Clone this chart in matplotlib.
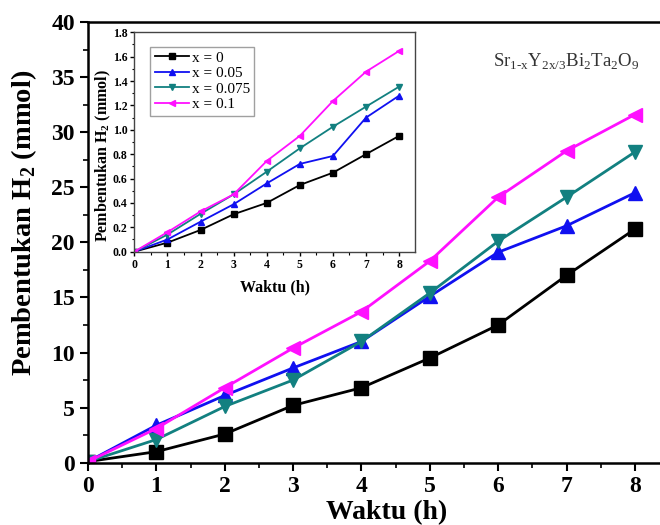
import numpy as np
import matplotlib.pyplot as plt
from matplotlib.ticker import MultipleLocator

plt.rcParams['font.family'] = ['Liberation Serif', 'DejaVu Serif']
plt.rcParams['mathtext.fontset'] = 'custom'
plt.rcParams['mathtext.rm'] = 'Liberation Serif'
plt.rcParams['mathtext.bf'] = 'Liberation Serif:bold'

# --------------------- data ---------------------
waktu = [0, 1, 2, 3, 4, 5, 6, 7, 8]
labels = ['x = 0', 'x = 0.05', 'x = 0.075', 'x = 0.1']

# main plot (mmol)
h2_x0 = [0.1, 1.0, 2.6, 5.2, 6.8, 9.5, 12.5, 17.0, 21.2]
h2_x005 = [0.1, 3.4, 6.1, 8.6, 11.0, 15.1, 19.1, 21.5, 24.5]
h2_x0075 = [0.1, 2.1, 5.1, 7.5, 11.0, 15.4, 20.1, 24.1, 28.2]
h2_x01 = [0.1, 3.1, 6.8, 10.4, 13.7, 18.3, 24.1, 28.3, 31.6]

# inset (mmol)
in_x0 = [0.0, 0.074, 0.178, 0.307, 0.40, 0.547, 0.648, 0.80, 0.95]
in_x005 = [0.0, 0.10, 0.246, 0.389, 0.56, 0.72, 0.785, 1.10, 1.28]
in_x0075 = [0.0, 0.14, 0.31, 0.47, 0.656, 0.848, 1.025, 1.19, 1.354]
in_x01 = [0.0, 0.16, 0.33, 0.47, 0.744, 0.95, 1.236, 1.477, 1.647]

colors = ['black', '#1010f0', '#128080', '#ff10ff']
markers = ['s', '^', 'v', '<']

# --------------------- main axes ---------------------
fig = plt.figure(figsize=(6.6, 5.25), dpi=100)
ax = fig.add_axes([0.1333, 0.1187, 0.868, 0.8394])

main_series = [h2_x0, h2_x005, h2_x0075, h2_x01]
for ys, c, m in zip(main_series, colors, markers):
    ax.plot(waktu, ys, color=c, marker=m, markersize=9.5, linewidth=2)

ax.set_xlim(0, 8.38)
ax.set_ylim(0, 40)
ax.xaxis.set_major_locator(MultipleLocator(1))
ax.xaxis.set_minor_locator(MultipleLocator(0.5))
ax.yaxis.set_major_locator(MultipleLocator(5))
ax.yaxis.set_minor_locator(MultipleLocator(2.5))
ax.tick_params(which='major', length=6, width=1.5, labelsize=17, direction='out')
ax.tick_params(which='minor', length=3.5, width=1.2, direction='out')
for lab in ax.get_xticklabels() + ax.get_yticklabels():
    lab.set_fontweight('bold')
for s in ['left', 'bottom', 'top']:
    ax.spines[s].set_linewidth(1.8)
ax.spines['right'].set_visible(False)

ax.set_xlabel('Waktu (h)', fontsize=20, fontweight='bold')
ax.set_ylabel(r'Pembentukan H$_\mathbf{2}$ (mmol)', fontsize=20.5,
              fontweight='bold')
ax.xaxis.set_label_coords(0.522, -0.085)
ax.yaxis.set_label_coords(-0.085, 0.545)

ax.text(0.963, 0.909, r'Sr$_{1\text{-}\mathrm{x}}$Y$_{2\mathrm{x}/3}$Bi$_2$Ta$_2$O$_9$',
        transform=ax.transAxes, ha='right', va='center', fontsize=13.5,
        color='#333333')

# --------------------- inset ---------------------
ins = fig.add_axes([0.2035, 0.5206, 0.4253, 0.4179])
inset_series = [in_x0, in_x005, in_x0075, in_x01]
for ys, c, m, lab in zip(inset_series, colors, markers, labels):
    ins.plot(waktu, ys, color=c, marker=m, markersize=4, linewidth=1.3, label=lab)

ins.set_xlim(0, 8.48)
ins.set_ylim(0, 1.8)
ins.xaxis.set_major_locator(MultipleLocator(1))
ins.xaxis.set_minor_locator(MultipleLocator(0.5))
ins.yaxis.set_major_locator(MultipleLocator(0.2))
ins.yaxis.set_minor_locator(MultipleLocator(0.1))
ins.tick_params(which='major', length=3, width=1, labelsize=8.5, direction='out', pad=2)
ins.tick_params(which='minor', length=1.8, width=0.8, direction='out')
ins.yaxis.set_major_formatter(plt.FormatStrFormatter('%.1f'))
for lab in ins.get_xticklabels() + ins.get_yticklabels():
    lab.set_fontweight('bold')
for s in ins.spines.values():
    s.set_linewidth(1.0)
    s.set_color('#444444')

ins.set_xlabel('Waktu (h)', fontsize=11.5, fontweight='bold', labelpad=6)
ins.set_ylabel(r'Pembentukan H$_\mathbf{2}$ (mmol)', fontsize=11.5,
               fontweight='bold')
ins.yaxis.set_label_coords(-0.075, 0.44)

leg = ins.legend(loc='upper left', fontsize=11, frameon=True, fancybox=False,
                 handlelength=2.2, handletextpad=0.2, borderpad=0.3,
                 labelspacing=0.12, bbox_to_anchor=(0.03, 0.97))
leg.get_frame().set_edgecolor('#888888')
leg.get_frame().set_linewidth(1.0)

fig.savefig('out.png', dpi=100)
